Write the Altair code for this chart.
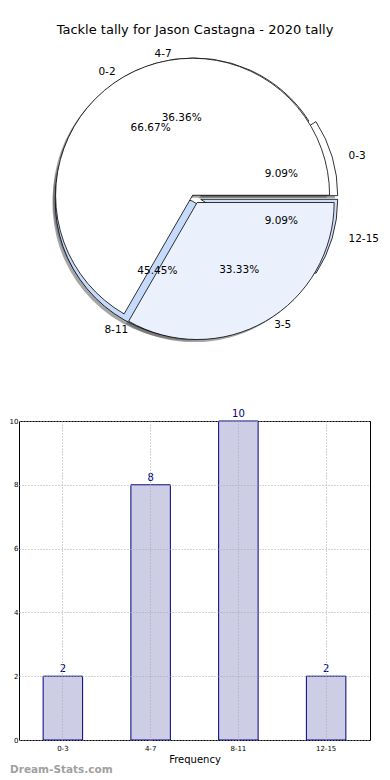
import altair as alt
import numpy as np
import pandas as pd

# ---------------- data ----------------
TITLE = "Tackle tally for Jason Castagna - 2020 tally"

pieA_labels = ["0-2", "3-5"]
pieA_values = [2, 1]            # 66.67% / 33.33%

pieB_labels = ["0-3", "4-7", "8-11", "12-15"]
pieB_values = [2, 8, 10, 2]     # 9.09% / 36.36% / 45.45% / 9.09%

bar_categories = ["0-3", "4-7", "8-11", "12-15"]
bar_values = [2, 8, 10, 2]

WATERMARK = "Dream-Stats.com"
X_TITLE = "Frequency"

# ---------------- style ----------------
pieA_colors = ["#ffffff", "#eaf1fd"]
pieA_explode = [0.02, 0.045]
pieB_colors = ["#ffffff", "#ffffff", "#c6dafc", "#cfdffb"]
pieB_explode = [0.05, 0.02, 0.03, 0.05]

FONT = "DejaVu Sans"
PIE_W, PIE_H = 351, 400
CX, CY = 175, 189.5       # pie centre inside the panel (px)
UX, UY = 140, 129         # px per pie unit
R_PX = 137


def pie_rows(name, labels, values, colors, explode):
    vals = np.array(values, dtype=float)
    total = vals.sum()
    cum = np.concatenate([[0], np.cumsum(vals)]) / total
    rows = []
    for i, lab in enumerate(labels):
        f1, f2 = cum[i], cum[i + 1]
        mid = np.pi * (f1 + f2)
        e = explode[i]
        cx, cy = e * np.cos(mid), e * np.sin(mid)
        ta = 90 - 360 * f2
        tb = 90 - 360 * f1
        if ta < 0:
            ta += 360
            tb += 360
        rows.append(dict(
            pie=name, label=lab, pct=f"{100 * vals[i] / total:.2f}%",
            color=colors[i],
            cx=cx, cy=cy, sx=cx - 0.02, sy=cy - 0.02,
            t1=np.radians(ta), t2=np.radians(tb),
            lx=cx + 1.1 * np.cos(mid), ly=cy + 1.1 * np.sin(mid),
            px=cx + 0.6 * np.cos(mid), py=cy + 0.6 * np.sin(mid),
            side="left" if np.cos(mid) > 0 else "right",
        ))
    return rows


pie_df = pd.DataFrame(
    pie_rows("B", pieB_labels, pieB_values, pieB_colors, pieB_explode)
    + pie_rows("A", pieA_labels, pieA_values, pieA_colors, pieA_explode)
)

xs = alt.Scale(domain=[-CX / UX, (PIE_W - CX) / UX], nice=False, zero=False)
ys = alt.Scale(domain=[-(PIE_H - CY) / UY, CY / UY], nice=False, zero=False)

base = alt.Chart(pie_df)

shadow = base.mark_arc(radius=R_PX, fill="#4d4d4d", opacity=0.5).encode(
    x=alt.X("sx:Q", scale=xs, axis=None),
    y=alt.Y("sy:Q", scale=ys, axis=None),
    theta=alt.Theta("t1:Q", scale=None),
    theta2="t2:Q",
)


def wedges(name):
    return base.transform_filter(alt.datum.pie == name).mark_arc(
        radius=R_PX, stroke="black", strokeWidth=0.8
    ).encode(
        x=alt.X("cx:Q", scale=xs, axis=None),
        y=alt.Y("cy:Q", scale=ys, axis=None),
        theta=alt.Theta("t1:Q", scale=None),
        theta2="t2:Q",
        fill=alt.Fill("color:N", scale=None),
    )


def names(side):
    return base.transform_filter(alt.datum.side == side).mark_text(
        align=side, baseline="middle", fontSize=10.5, font=FONT, color="black"
    ).encode(
        x=alt.X("lx:Q", scale=xs, axis=None),
        y=alt.Y("ly:Q", scale=ys, axis=None),
        text="label:N",
    )


pcts = base.mark_text(
    align="center", baseline="middle", fontSize=10.5, font=FONT, color="black"
).encode(
    x=alt.X("px:Q", scale=xs, axis=None),
    y=alt.Y("py:Q", scale=ys, axis=None),
    text="pct:N",
)

title = alt.Chart(pd.DataFrame({"t": [TITLE]})).mark_text(
    align="center", baseline="middle", fontSize=13, font=FONT, color="black"
).encode(text="t:N", x=alt.value(176), y=alt.value(22))

pie = alt.layer(
    shadow, wedges("B"), wedges("A"), names("left"), names("right"), pcts, title
).properties(width=PIE_W, height=PIE_H, view=alt.ViewBackground(stroke=None))

# ---------------- bar chart ----------------
bar_df = pd.DataFrame({"cat": bar_categories, "count": bar_values})

xenc = alt.X(
    "cat:N", sort=bar_categories,
    scale=alt.Scale(paddingInner=0.55, paddingOuter=0.275),
    axis=alt.Axis(
        title=X_TITLE, labelAngle=0, labelFontSize=7, labelFont=FONT,
        labelColor="black", titleFont=FONT, titleFontSize=10,
        titleFontWeight="normal", titleColor="black", titlePadding=3,
        ticks=False, labelPadding=4, domain=False, grid=True,
        gridDash=[1, 2], gridColor="#a8a8a8", gridWidth=1,
        bandPosition=0.5, zindex=1,
    ),
)
yenc = alt.Y(
    "count:Q", scale=alt.Scale(domain=[0, 10], nice=False),
    axis=alt.Axis(
        title=None, values=[0, 2, 4, 6, 8, 10], labelFontSize=7,
        labelFont=FONT, labelColor="black", ticks=False, labelPadding=1,
        domain=False, grid=True, gridDash=[1, 2], gridColor="#a8a8a8",
        gridWidth=1, zindex=1,
    ),
)

bars = alt.Chart(bar_df).mark_bar(
    fill="#cdcde6", stroke="#000080", strokeWidth=1
).encode(x=xenc, y=yenc)

bar_text = alt.Chart(bar_df).mark_text(
    color="#000080", fontSize=10, font=FONT, baseline="bottom", dy=-2
).encode(x=alt.X("cat:N", sort=bar_categories), y="count:Q", text="count:Q")

wm = alt.Chart(pd.DataFrame({"t": [WATERMARK]})).mark_text(
    align="left", baseline="middle", fontSize=10.5, font=FONT,
    fontWeight="bold", color="#a0a0a0"
).encode(text="t:N", x=alt.value(-9), y=alt.value(349))

bar = alt.layer(bars, bar_text, wm).properties(
    width=351, height=319,
    view=alt.ViewBackground(stroke="black", strokeWidth=1),
)

chart = alt.vconcat(pie, bar, spacing=0).properties(
    padding=0
).configure(font=FONT).configure_view(stroke=None)

chart.save("out.html", embed_options={"renderer": "svg", "actions": False})
